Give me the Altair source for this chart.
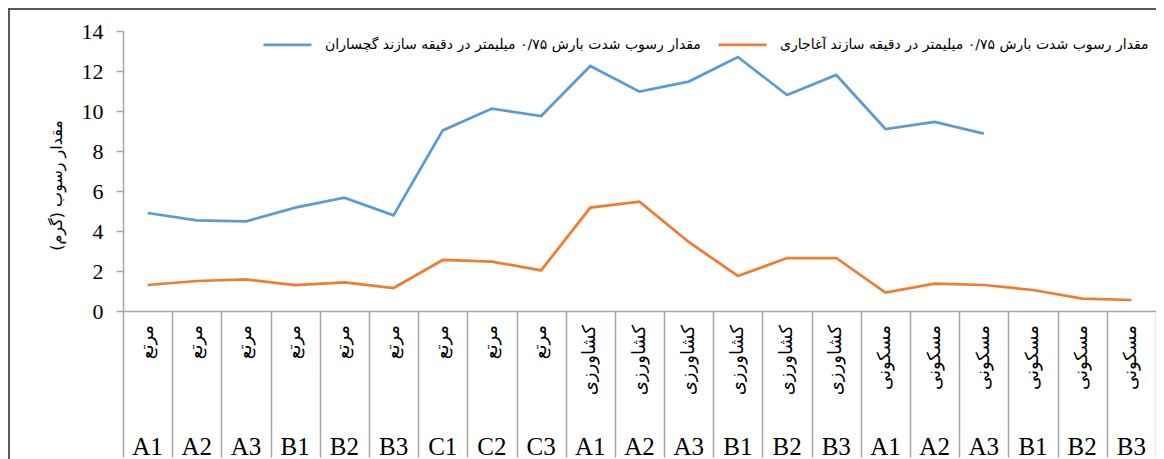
import altair as alt
import pandas as pd

# ---- data ----
groups = ["مرتع"] * 9 + ["کشاورزی"] * 6 + ["مسکونی"] * 6
codes = ["A1", "A2", "A3", "B1", "B2", "B3", "C1", "C2", "C3",
         "A1", "A2", "A3", "B1", "B2", "B3",
         "A1", "A2", "A3", "B1", "B2", "B3"]
gachsaran = [4.9, 4.53, 4.48, 5.17, 5.67, 4.78, 9.03, 10.12, 9.75,
             12.25, 10.97, 11.47, 12.7, 10.8, 11.8,
             9.1, 9.45, 8.87, None, None, None]
aghajari = [1.3, 1.5, 1.58, 1.3, 1.43, 1.15, 2.55, 2.47, 2.03,
            5.17, 5.47, 3.45, 1.75, 2.65, 2.65,
            0.92, 1.37, 1.3, 1.05, 0.62, 0.55]
series_names = [
    "مقدار رسوب شدت بارش ۰/۷۵ میلیمتر در دقیقه سازند گچساران",
    "مقدار رسوب شدت بارش ۰/۷۵ میلیمتر در دقیقه سازند آغاجاری",
]
series_colors = ["#5B9BD5", "#ED7D31"]
y_ticks = [0, 2, 4, 6, 8, 10, 12, 14]
y_title = "مقدار رسوب (گرم)"

n = len(codes)
idx = list(range(1, n + 1))
rows = []
for name, vals in zip(series_names, [gachsaran, aghajari]):
    for i, v in zip(idx, vals):
        if v is not None:
            rows.append({"idx": i, "series": name, "value": v})
df = pd.DataFrame(rows)
labels = pd.DataFrame({"idx": idx, "group": groups, "code": codes})
boundaries = [i + 0.5 for i in range(0, n + 1)]

W, H = 1033, 280
GRAY = "#A6A6A6"

xscale = alt.Scale(domain=[0.5, n + 0.5], nice=False, zero=False)
x_enc = alt.X("idx:Q", scale=xscale,
              axis=alt.Axis(values=boundaries, labels=False, grid=False, title=None,
                            ticks=True, tickSize=146, tickColor=GRAY, tickWidth=1.5,
                            domainColor=GRAY, domainWidth=1.5))

lines = alt.Chart(df).mark_line(strokeWidth=2.75).encode(
    x=x_enc,
    y=alt.Y("value:Q", scale=alt.Scale(domain=[0, 14], nice=False),
            axis=alt.Axis(values=y_ticks, grid=False, tickSize=7, tickColor=GRAY,
                          tickWidth=1.5, domainColor=GRAY, domainWidth=1.5,
                          labelFont="Liberation Serif", labelFontSize=22,
                          labelColor="black", labelPadding=13,
                          title=y_title, titleFont="DejaVu Sans", titleFontSize=16,
                          titleFontWeight="normal", titleColor="black",
                          titleX=-67, titleY=154, titleAngle=270,
                          titleAlign="center", titleBaseline="middle")),
    color=alt.Color("series:N",
                    scale=alt.Scale(domain=series_names, range=series_colors),
                    legend=alt.Legend(title=None, orient="none", legendX=139, legendY=-12,
                                      direction="horizontal", symbolType="stroke",
                                      symbolSize=2300, symbolStrokeWidth=2.75,
                                      labelFont="DejaVu Sans", labelFontSize=14,
                                      labelColor="black", labelLimit=700,
                                      columnPadding=12, labelOffset=12)),
)

group_text = alt.Chart(labels).mark_text(
    angle=270, align="right", baseline="middle", font="DejaVu Sans",
    fontSize=18, color="black"
).encode(x=alt.X("idx:Q", scale=xscale), y=alt.value(H + 14), text="group:N")

code_text = alt.Chart(labels).mark_text(
    align="center", baseline="alphabetic", font="Liberation Serif",
    fontSize=25, color="black"
).encode(x=alt.X("idx:Q", scale=xscale), y=alt.value(H + 144), text="code:N")

one = pd.DataFrame({"k": [0]})
frame_top = alt.Chart(one).mark_rule(stroke="#595959", strokeWidth=2).encode(
    x=alt.value(-114), x2=alt.value(W), y=alt.value(-22))
frame_left = alt.Chart(one).mark_rule(stroke="#595959", strokeWidth=2).encode(
    x=alt.value(-114), y=alt.value(-23), y2=alt.value(H + 150))

chart = alt.layer(frame_top, frame_left, lines, group_text, code_text).properties(
    width=W, height=H,
    autosize=alt.AutoSizeParams(type="none"),
    padding={"left": 115, "top": 23, "right": 0, "bottom": 148},
).configure_view(stroke=None)

chart.save("out.html", embed_options={"renderer": "svg", "actions": False})
